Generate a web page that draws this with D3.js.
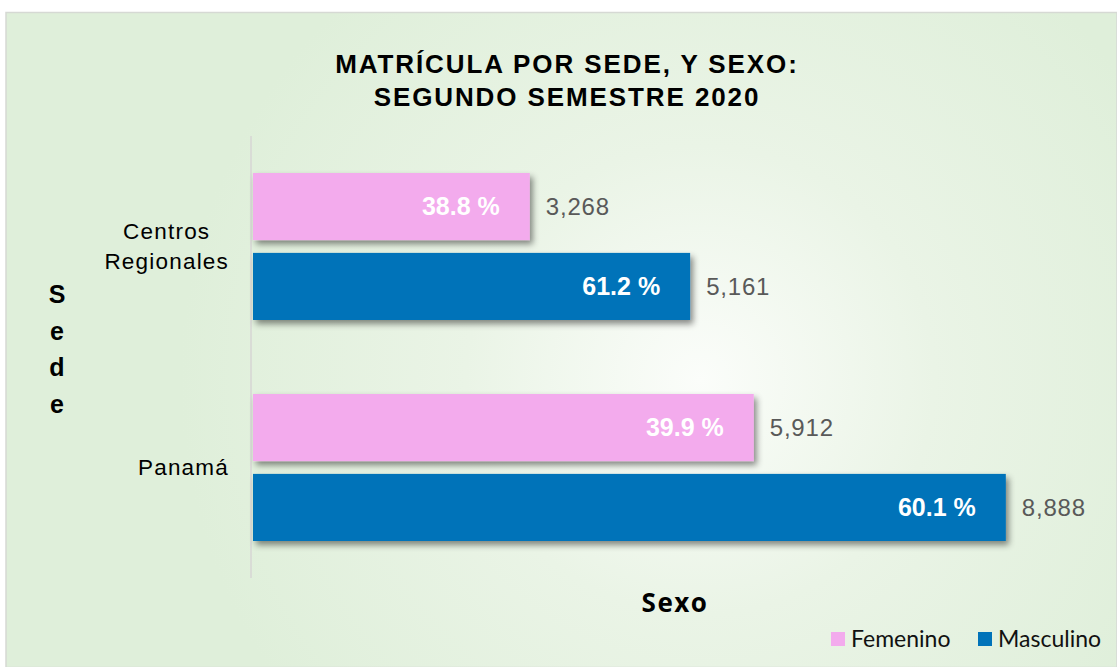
<!DOCTYPE html>
<html>
<head>
<meta charset="utf-8">
<script src="https://cdn.jsdelivr.net/npm/d3@7"></script>
<style>
  body { margin: 0; background: #fff; }
  svg { display: block; font-family: "Liberation Sans", Arial, sans-serif; }
</style>
</head>
<body>
<svg id="chart" width="1117" height="667"></svg>
<script>
// data
const sedes = ["Centros Regionales", "Panamá"];
const sexos = ["Femenino", "Masculino"];
const femenino = [3268, 5912];
const masculino = [5161, 8888];
const pctFemenino = ["38.8 %", "39.9 %"];
const pctMasculino = ["61.2 %", "60.1 %"];
const colores = ["#f3abed", "#0173b9"];

const svg = d3.select("#chart");
const W = 1117, H = 667;

// background panel
const defs = svg.append("defs");
const grad = defs.append("radialGradient")
	.attr("id", "bg").attr("gradientUnits", "userSpaceOnUse")
	.attr("cx", 700).attr("cy", 380).attr("r", 520);
grad.append("stop").attr("offset", "0%").attr("stop-color", "#fbfdfa");
grad.append("stop").attr("offset", "45%").attr("stop-color", "#eaf4e6");
grad.append("stop").attr("offset", "100%").attr("stop-color", "#dfefda");

const shadow = defs.append("filter").attr("id", "sh")
	.attr("x", "-5%").attr("y", "-20%").attr("width", "115%").attr("height", "150%");
shadow.append("feDropShadow")
	.attr("dx", 3).attr("dy", 4).attr("stdDeviation", 3)
	.attr("flood-color", "#000").attr("flood-opacity", 0.45);

svg.append("rect")
	.attr("x", 6).attr("y", 12.5).attr("width", W - 6).attr("height", H - 12)
	.attr("fill", "url(#bg)")
	.attr("stroke", "#d6d9d4").attr("stroke-width", 1.5);

// scales
const x = d3.scaleLinear().domain([0, 10000]).range([253, 1100]);
const y = d3.scaleBand().domain(sedes).range([136, 578]);
const ySub = d3.scaleBand().domain(sexos).range([37, 184]).paddingInner(0.16);

// title
svg.append("text")
	.attr("x", 567).attr("y", 73)
	.attr("text-anchor", "middle")
	.attr("font-size", "26px").attr("font-weight", "bold")
	.attr("letter-spacing", "1.9px")
	.selectAll("tspan")
	.data(["MATRÍCULA POR SEDE, Y SEXO:", "SEGUNDO SEMESTRE 2020"])
	.join("tspan")
	.attr("x", 567).attr("dy", (d, i) => i === 0 ? 0 : 33)
	.text(d => d);

// axis line
svg.append("line")
	.attr("x1", 251).attr("x2", 251)
	.attr("y1", 136).attr("y2", 578)
	.attr("stroke", "#d9dcd6").attr("stroke-width", 2);

// bars
const rows = [];
sedes.forEach((s, i) => {
	rows.push({sede: s, sexo: "Femenino", v: femenino[i], pct: pctFemenino[i]});
	rows.push({sede: s, sexo: "Masculino", v: masculino[i], pct: pctMasculino[i]});
});
const color = d3.scaleOrdinal().domain(sexos).range(colores);

const g = svg.append("g");
g.selectAll("rect.bar").data(rows).join("rect")
	.attr("class", "bar")
	.attr("x", x(0))
	.attr("y", d => y(d.sede) + ySub(d.sexo))
	.attr("width", d => x(d.v) - x(0))
	.attr("height", ySub.bandwidth())
	.attr("fill", d => color(d.sexo))
	.attr("filter", "url(#sh)");

g.selectAll("text.pct").data(rows).join("text")
	.attr("class", "pct")
	.attr("x", d => x(d.v) - 30)
	.attr("y", d => y(d.sede) + ySub(d.sexo) + ySub.bandwidth() / 2)
	.attr("dy", "0.35em")
	.attr("text-anchor", "end")
	.attr("font-size", "25px").attr("font-weight", "bold")
	.attr("fill", "#fff")
	.text(d => d.pct);

g.selectAll("text.val").data(rows).join("text")
	.attr("class", "val")
	.attr("x", d => x(d.v) + 16)
	.attr("y", d => y(d.sede) + ySub(d.sexo) + ySub.bandwidth() / 2)
	.attr("dy", "0.35em")
	.attr("font-size", "24px")
	.attr("letter-spacing", "0.8px")
	.attr("fill", "#595959")
	.text(d => d3.format(",")(d.v));

// category labels: lines centred within a block that is right-aligned
const catLines = {"Centros Regionales": ["Centros", "Regionales"], "Panamá": ["Panamá"]};
svg.append("g").selectAll("text").data(sedes).join("text")
	.attr("text-anchor", "middle")
	.attr("font-size", "22.5px")
	.attr("letter-spacing", "1.2px")
	.attr("fill", "#000")
	.each(function(d) {
		const lines = catLines[d];
		const cy = y(d) + y.bandwidth() / 2;
		const t = d3.select(this);
		t.selectAll("tspan").data(lines).join("tspan")
			.attr("y", (l, i) => cy + (i - (lines.length - 1) / 2) * 30)
			.attr("dy", "0.35em")
			.text(l => l);
		let wmax = 0;
		t.selectAll("tspan").each(function() { wmax = Math.max(wmax, this.getComputedTextLength()); });
		t.selectAll("tspan").attr("x", 229 - wmax / 2);
	});

// axis titles
svg.append("text")
	.attr("x", 675).attr("y", 612)
	.attr("text-anchor", "middle")
	.attr("font-family", "'Open Sans', sans-serif")
	.attr("font-size", "26px").attr("font-weight", "bold")
	.attr("letter-spacing", "1.5px")
	.text("Sexo");

svg.append("g").selectAll("text").data("Sede".split("")).join("text")
	.attr("x", 57).attr("y", (d, i) => 303 + i * 36.7)
	.attr("text-anchor", "middle")
	.attr("font-size", "25px").attr("font-weight", "bold")
	.text(d => d);

// legend
const legX = [831, 978];
const leg = svg.append("g").selectAll("g").data(sexos).join("g")
	.attr("transform", (d, i) => `translate(${legX[i]},632)`);
leg.append("rect").attr("width", 14).attr("height", 14).attr("fill", d => color(d));
leg.append("text")
	.attr("x", 20).attr("y", 7).attr("dy", "0.35em")
	.attr("font-family", "Lato, 'Open Sans', sans-serif")
	.attr("font-size", "23px").attr("fill", "#111")
	.text(d => d);
</script>
</body>
</html>
